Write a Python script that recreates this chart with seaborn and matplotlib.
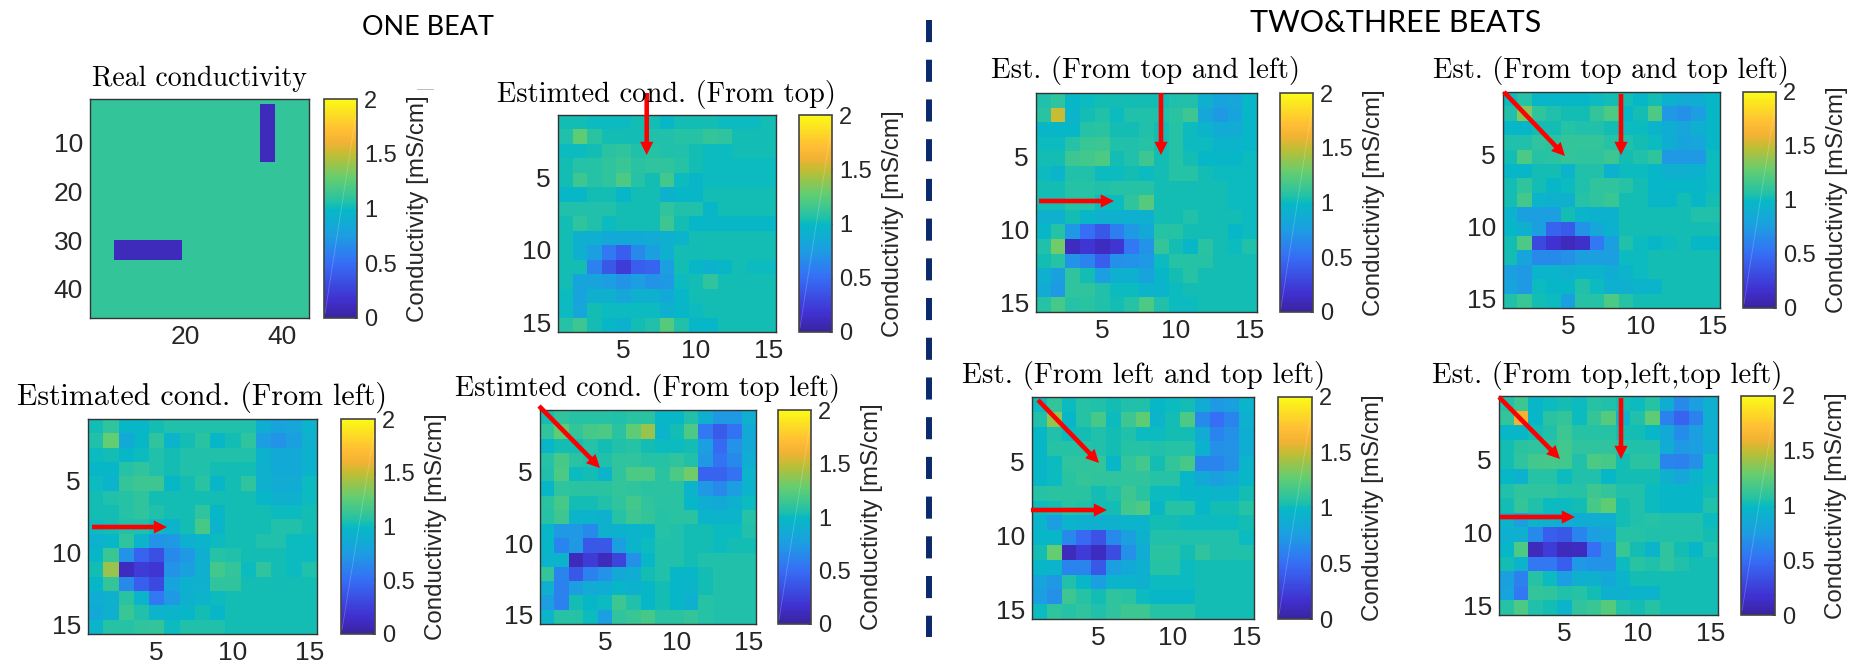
import numpy as np
import matplotlib
matplotlib.use("Agg")
import matplotlib.pyplot as plt
from matplotlib.colors import LinearSegmentedColormap
import seaborn as sns

sns.set_style("white")
plt.rcParams['font.family'] = ['Liberation Sans', 'DejaVu Sans']

W, H = 1863, 672

# ---------- data ----------
real_base = 1.12
real_low = 0.1
real_blocks = [(1, 13, 35, 38), (29, 33, 5, 19)]  # row0,row1,col0,col1

from_top = [
 [1.02,1.02,1.00,1.00,1.00,1.02,1.02,.97,1.03,1.03,1.03,1.00,1.00,1.00,1.03],
 [1.05,1.25,1.08,1.03,1.03,1.03,1.05,1.05,1.07,1.07,1.12,1.10,1.03,1.03,1.03],
 [1.00,1.00,1.03,1.08,1.10,1.05,1.07,1.05,1.05,1.03,1.00,1.00,1.03,1.03,1.03],
 [1.03,1.07,1.07,1.10,1.13,1.08,1.10,1.10,1.07,1.03,1.00,1.00,1.00,1.00,1.00],
 [1.03,1.15,1.07,1.10,1.20,1.07,1.03,1.17,1.00,.98,1.00,1.00,1.00,1.00,1.00],
 [.98,.98,1.02,1.02,.97,1.02,1.02,.93,.97,.97,1.02,1.03,1.03,1.03,1.03],
 [1.05,1.05,1.05,1.05,1.03,1.03,1.03,1.10,1.05,1.05,.98,1.03,1.03,1.03,1.03],
 [1.02,1.10,1.05,1.00,1.03,1.03,1.03,1.15,1.03,.98,.98,.98,.98,.98,.98],
 [1.02,.90,.90,.85,.85,.85,.87,.90,.95,1.03,1.03,1.03,1.03,1.03,1.03],
 [1.02,.90,.75,.55,.42,.65,.75,.90,1.02,1.03,1.03,1.03,1.03,1.03,1.03],
 [1.02,1.03,.60,.38,.22,.42,.45,.75,1.02,.97,.93,.98,1.03,1.00,1.00],
 [1.03,.80,.80,.75,.70,.75,.70,.72,1.00,1.03,1.10,1.03,1.03,1.03,1.03],
 [1.00,.80,.92,.92,.82,.92,.92,.85,.97,1.03,1.03,1.03,1.03,1.03,1.03],
 [1.00,.82,1.03,1.00,1.00,1.00,1.00,.92,.97,1.00,1.03,1.03,1.03,1.03,1.03],
 [1.07,1.15,1.03,.98,.93,1.03,1.05,1.22,1.05,.98,.98,1.03,1.03,1.03,1.03],
]
from_left = [
 [1.03,1.10,.97,.98,1.03,1.05,1.05,1.05,1.05,1.05,1.05,.88,.80,.82,.95],
 [1.05,1.28,.85,.97,1.10,.95,1.03,1.08,.97,1.03,1.10,.75,.70,.78,.92],
 [1.00,1.03,.98,1.00,1.05,1.03,1.05,1.05,1.05,1.05,1.05,.93,.85,.85,.93],
 [.97,.97,1.07,1.10,1.05,1.03,1.05,1.05,1.03,1.03,1.03,.92,.85,.85,.93],
 [1.00,.95,1.12,1.15,1.15,.97,1.03,1.08,.98,1.03,1.10,.92,.87,.87,1.00],
 [1.03,1.05,1.07,1.10,1.03,1.03,1.03,1.03,1.03,1.03,1.03,.97,.92,.92,1.00],
 [1.03,1.03,1.07,1.10,1.05,1.03,1.03,1.10,.97,1.03,1.03,1.03,1.00,1.00,1.03],
 [1.00,1.03,1.05,1.05,1.00,.95,1.03,1.18,.95,1.03,1.03,1.03,1.05,1.05,1.03],
 [.93,.97,1.10,.95,.70,.72,.90,.95,1.00,1.03,1.03,1.05,1.05,1.00,1.00],
 [.97,1.13,.70,.45,.33,.65,.72,.90,1.07,1.05,1.03,1.03,1.03,1.00,1.00],
 [1.03,1.40,.12,.22,.20,.70,.78,.92,1.17,1.12,1.00,1.10,1.03,1.00,1.05],
 [.97,1.12,.65,.42,.30,.80,.93,.92,1.10,1.10,1.03,1.03,1.03,1.03,1.03],
 [.88,.92,1.08,.95,.55,.72,.92,.95,1.00,1.03,1.03,1.03,1.03,1.03,1.03],
 [.85,.92,1.13,1.05,.95,.95,.98,1.03,.97,1.03,1.03,1.03,1.03,1.03,1.03],
 [.95,1.07,1.07,1.10,1.12,1.00,1.05,1.05,1.05,1.03,1.03,1.03,1.03,1.03,1.03],
]
from_top_left = [
 [1.03,1.10,1.07,1.07,1.07,1.05,1.08,1.08,.97,.97,1.05,.90,.72,.72,.90],
 [1.10,1.25,1.12,1.18,1.20,1.08,1.25,1.40,.95,1.03,1.20,.55,.40,.52,.85],
 [.97,1.03,1.03,1.07,1.03,1.05,1.07,1.02,1.00,1.00,1.03,.75,.48,.70,.85],
 [1.07,1.18,1.08,1.05,1.05,1.10,1.10,1.07,1.07,1.10,1.05,.72,.52,.65,.88],
 [1.05,1.20,1.00,1.03,.95,1.10,1.20,1.20,1.08,1.20,1.30,.45,.45,.52,.95],
 [.98,1.10,1.08,1.08,1.08,1.12,1.10,1.08,1.08,1.08,.95,.72,.65,.75,.95],
 [1.08,1.18,1.03,1.03,1.05,1.10,1.17,1.10,1.08,1.08,.97,.88,.85,.92,1.00],
 [1.07,1.15,.95,.95,.92,1.07,1.15,1.12,1.07,1.08,1.08,.95,.95,.95,1.07],
 [.97,.72,.72,.65,.92,.93,.95,.97,1.07,1.05,1.02,1.03,1.00,1.00,1.05],
 [.97,.62,.72,.38,.38,.75,.95,1.00,1.05,1.05,1.03,1.03,1.00,1.03,1.03],
 [.95,.95,.10,.22,.10,.27,.68,.97,1.05,1.05,1.03,1.05,1.05,1.05,1.05],
 [1.12,.62,.38,.60,.70,.85,.88,1.03,1.05,.98,.97,1.03,1.05,1.05,1.05],
 [.90,.60,.75,.87,.88,.98,.93,.98,1.03,.98,.95,1.03,1.05,1.05,1.05],
 [.75,.60,1.03,.97,1.00,1.15,1.05,.97,1.03,.97,.90,1.07,1.05,1.05,1.05],
 [.95,1.07,1.07,1.00,.75,1.10,1.13,1.18,1.08,1.08,1.12,1.07,1.05,1.05,1.05],
]
top_and_left = [
 [1.05,1.10,.97,1.00,1.03,1.03,1.03,1.03,1.03,1.05,1.05,.92,.80,.82,.97],
 [1.08,1.50,.95,1.02,1.05,1.00,1.05,1.05,1.05,1.08,1.15,.83,.72,.80,.97],
 [.98,.97,.98,1.07,1.08,1.03,1.03,1.05,1.03,1.07,1.00,.95,.87,.87,.97],
 [1.00,1.00,1.07,1.13,1.15,1.05,1.05,1.07,1.03,1.07,1.00,1.00,.95,.95,.97],
 [1.03,1.03,1.15,1.17,1.20,1.03,1.05,1.15,1.03,1.07,1.03,.97,.97,.97,1.00],
 [1.00,.95,1.05,1.05,1.00,1.00,1.03,1.00,1.03,1.07,1.07,1.03,1.00,1.00,1.00],
 [1.03,1.03,1.07,1.07,1.05,1.07,1.07,1.07,1.03,1.03,1.03,1.03,1.03,1.00,1.00],
 [1.03,1.03,1.07,1.07,1.00,1.00,1.10,1.22,1.03,1.03,1.03,1.03,1.03,1.00,1.00],
 [.92,.92,1.03,.97,.92,.92,.90,.90,1.03,1.03,1.05,1.03,1.03,1.03,1.00],
 [.97,1.07,.72,.50,.38,.58,.72,.85,1.07,1.07,1.03,1.03,1.03,.97,1.00],
 [1.05,1.30,.12,.20,.12,.20,.55,.70,1.12,1.03,.97,1.08,1.03,1.00,1.05],
 [1.03,1.07,.70,.62,.42,.68,.70,.72,1.00,1.07,1.07,1.07,1.03,1.03,1.03],
 [.92,.78,1.10,1.03,.75,.90,.92,.80,.97,1.03,1.07,1.03,1.03,1.03,1.03],
 [.87,.72,1.10,1.10,1.05,1.00,1.00,.95,.95,1.00,1.03,1.03,1.03,1.03,1.03],
 [1.07,1.18,1.07,1.08,1.05,1.03,1.07,1.20,1.05,1.00,1.00,1.03,1.03,1.03,1.03],
]
top_and_top_left = [
 [1.00,1.07,.98,.98,.97,.97,1.00,1.03,1.03,.98,1.03,.93,.87,.88,.97],
 [1.05,1.35,1.10,1.05,1.02,1.02,1.12,1.20,.97,1.03,1.20,.72,.68,.75,.97],
 [.97,.97,1.03,1.03,1.07,1.05,1.05,1.03,1.00,1.00,.95,.88,.82,.90,.97],
 [1.05,1.05,1.10,1.08,1.12,1.12,1.12,1.07,1.05,1.03,1.00,.88,.80,.82,.97],
 [1.03,1.20,1.07,1.08,1.12,1.10,1.10,1.15,1.03,1.05,1.10,.72,.72,.72,1.00],
 [.97,.97,1.02,1.02,.95,1.05,1.05,.93,1.00,1.00,.97,.90,.90,.93,1.00],
 [1.03,1.10,1.03,.97,1.00,1.05,1.10,1.10,1.07,1.03,.97,.97,.97,.97,1.00],
 [1.03,1.17,.95,.92,.92,1.07,1.10,1.13,1.03,1.03,.98,.97,1.03,.97,1.03],
 [.95,.78,.75,.75,1.03,.95,.93,.93,1.03,1.03,1.03,1.03,1.03,1.05,1.05],
 [.97,.92,.75,.45,.40,.70,.82,.93,1.03,1.03,1.03,1.03,1.03,1.03,1.03],
 [1.03,1.20,.30,.18,.10,.15,.55,.78,1.05,1.00,.97,1.00,1.03,.98,.98],
 [1.03,.80,.65,.65,.68,.78,.75,.75,1.00,1.00,1.03,1.03,1.03,1.03,1.03],
 [.78,.72,.95,.95,.92,.95,.95,.88,.95,1.00,1.03,1.03,1.03,1.03,1.03],
 [.80,.72,1.00,.97,.97,1.05,1.00,.90,.92,.95,.95,1.03,1.03,1.03,1.03],
 [1.05,1.13,1.03,1.00,.78,1.07,1.07,1.20,1.07,1.03,1.03,1.03,1.03,1.03,1.03],
]
left_and_top_left = [
 [1.00,1.12,1.00,1.07,1.05,1.02,1.05,1.05,.97,1.00,1.03,.87,.72,.78,.95],
 [1.05,1.38,.97,1.07,1.18,1.00,1.15,1.25,.95,1.03,1.20,.65,.50,.62,.90],
 [.97,1.05,1.00,1.03,1.05,1.03,1.05,1.00,1.00,1.03,1.03,.87,.62,.68,.88],
 [.97,1.07,1.07,1.07,1.05,1.03,1.07,1.07,1.05,1.07,1.07,.93,.68,.70,.88],
 [.97,1.00,1.10,1.10,1.12,.97,1.12,1.17,1.03,1.12,1.18,.62,.62,.68,.95],
 [.97,1.00,1.08,1.12,1.10,1.10,1.10,1.10,1.07,1.07,.97,.85,.78,.85,.97],
 [1.07,1.08,1.08,1.08,1.03,1.05,1.15,1.08,1.00,1.00,.97,.97,.95,.95,1.03],
 [1.00,1.03,1.07,1.05,1.03,1.03,1.17,1.20,.98,1.07,1.07,.97,1.03,1.03,1.07],
 [.95,.75,.95,.92,.92,.92,.95,.95,1.02,1.02,1.00,1.00,1.00,1.00,1.03],
 [.97,.97,.65,.48,.35,.65,.78,.92,1.05,1.05,1.05,1.05,1.05,1.05,1.00],
 [1.02,1.27,.10,.22,.12,.32,.68,.87,1.08,1.08,1.03,1.10,1.05,1.05,1.05],
 [.97,.95,.62,.62,.38,.75,.85,.90,1.07,1.07,1.00,1.03,1.03,1.03,1.03],
 [.80,.72,1.05,.97,.75,.95,.95,.92,1.00,1.00,1.00,1.03,1.03,1.03,1.03],
 [.75,.68,1.15,1.07,1.03,1.10,1.08,1.00,.98,.98,.98,1.03,1.03,1.03,1.03],
 [1.00,1.10,1.07,1.10,1.05,1.10,1.15,1.15,1.07,1.07,1.07,1.03,1.03,1.03,1.03],
]
all_three = [
 [1.05,1.15,.97,1.00,1.03,1.00,1.07,1.05,1.03,1.00,1.07,.88,.65,.75,.92],
 [1.12,1.60,.97,1.08,1.12,1.00,1.12,1.22,.95,1.05,1.25,.60,.45,.60,.90],
 [.97,.97,1.03,1.05,1.15,1.07,1.07,1.07,1.03,1.03,.97,.85,.67,.75,.90],
 [1.02,1.08,1.10,1.10,1.17,1.10,1.10,1.10,1.07,1.05,1.05,.87,.72,.75,.88],
 [1.03,1.10,1.17,1.18,1.17,1.05,1.20,1.18,1.03,1.08,1.08,.62,.60,.68,1.00],
 [.97,.93,1.07,1.07,1.00,1.05,1.05,.97,1.03,1.03,1.02,.92,.82,.95,1.00],
 [1.05,1.10,1.10,1.10,1.07,1.07,1.15,1.12,1.05,1.05,1.00,.97,.97,.97,1.03],
 [1.03,1.12,1.05,1.00,1.00,1.03,1.18,1.25,1.03,1.05,1.00,.97,.97,.97,1.05],
 [.95,.78,.95,.92,.88,.88,.88,.88,1.03,1.05,1.07,1.05,1.05,1.05,1.00],
 [.90,.90,.65,.42,.38,.62,.75,.80,1.07,1.07,1.05,1.05,1.05,1.05,1.03],
 [.97,1.20,.10,.22,.10,.12,.50,.70,1.13,1.03,.95,1.10,1.03,.98,1.05],
 [1.03,.95,.55,.55,.42,.72,.70,.70,1.00,1.08,1.05,1.10,1.05,1.03,1.03],
 [.78,.60,1.07,1.00,.75,.92,.92,.85,.95,1.03,1.03,1.03,1.03,1.03,1.03],
 [.80,.55,1.12,1.10,1.05,1.07,1.03,.92,.92,.95,.95,1.03,1.03,1.03,1.03],
 [1.07,1.20,1.05,1.03,.95,1.10,1.13,1.22,1.05,1.03,1.07,1.03,1.03,1.03,1.03],
]
real_cond = np.full((45, 45), real_base)
for r0, r1, c0, c1 in real_blocks:
    real_cond[r0:r1, c0:c1] = real_low

titles = ["Real conductivity", "Estimted cond. (From top)", "Estimated cond. (From left)",
          "Estimted cond. (From top left)", "Est. (From top and left)",
          "Est. (From top and top left)", "Est. (From left and top left)",
          "Est. (From top,left,top left)"]
matrices = [real_cond, from_top, from_left, from_top_left, top_and_left,
            top_and_top_left, left_and_top_left, all_three]
tick_values_fine = [5, 10, 15]
cbar_ticks = [0, 0.5, 1, 1.5, 2]
cbar_labels = ["0", "0.5", "1", "1.5", "2"]
cbar_title = "Conductivity [mS/cm]"
headings = ["ONE BEAT", "TWO&THREE BEATS"]

# ---------- layout (pixels) ----------
axes_box = [(90,309,99,318),(558,776,115,332),(88,317,419,634),(540,756,410,624),
            (1036,1257,93,312),(1503,1720,92,308),(1032,1254,397,619),(1499,1718,396,615)]
cbar_box = [(324,357),(799,832),(341,375),(778,811),(1280,1313),(1743,1776),(1278,1312),(1741,1775)]
title_box = [(92,307,86),(497,836,102),(17,388,405),(455,840,396),
             (991,1301,78),(1433,1789,78),(962,1325,383),(1432,1783,383)]
heading_box = [(362,493,35),(1250,1541,32)]
arrows = [((646.7,93),(646.7,155)),((92,527),(167,527)),((539,406),(600,468)),
          ((1161,93),(1161,155)),((1039,201),(1114,201)),
          ((1504,92),(1565,156)),((1621,94),(1621,155)),
          ((1038,400),(1099,463)),((1031,510),(1107,510)),
          ((1499,397),(1560,459)),((1621,398),(1621,459)),((1500,517),(1575,517))]

stops = [(0.0,(58,36,160)),(0.08,(64,48,208)),(0.25,(54,110,246)),(0.375,(28,158,226)),
         (0.5,(6,186,196)),(0.515,(24,190,176)),(0.55,(46,196,158)),(0.64,(100,205,112)),
         (0.745,(190,190,52)),(0.80,(240,178,52)),(0.86,(255,190,52)),(1.0,(250,250,22))]
cmap = LinearSegmentedColormap.from_list("parula_like",
        [(p, tuple(v/255 for v in c)) for p, c in stops], N=128)

fig = plt.figure(figsize=(W/100, H/100), dpi=100, facecolor="white")

def add_px_axes(x0, x1, y0, y1):
    return fig.add_axes([x0/W, 1-y1/H, (x1-x0)/W, (y1-y0)/H])

EDGE = "#333333"
TXT = "#262626"
for i, mat in enumerate(matrices):
    x0, x1, y0, y1 = axes_box[i]
    ax = add_px_axes(x0, x1, y0, y1)
    cx0, cx1 = cbar_box[i]
    cax = add_px_axes(cx0, cx1, y0, y1)
    arr = np.asarray(mat, float)
    sns.heatmap(arr, ax=ax, cbar_ax=cax, vmin=0, vmax=2, cmap=cmap, square=False,
                cbar_kws={"ticks": cbar_ticks})
    if i == 0:
        xt, yt = [20, 40], [10, 20, 30, 40]
    else:
        xt, yt = tick_values_fine, tick_values_fine
    ax.set_xticks([v-0.5 for v in xt]); ax.set_xticklabels([str(v) for v in xt], rotation=0)
    ax.set_yticks([v-0.5 for v in yt]); ax.set_yticklabels([str(v) for v in yt], rotation=0)
    ax.tick_params(direction="in", length=2.5, width=0.7, color=EDGE, top=True, right=True,
                   bottom=True, left=True, labelsize=19, labelcolor=TXT, pad=5)
    for s in ax.spines.values():
        s.set_visible(True); s.set_color(EDGE); s.set_linewidth(1.0)
    cb = ax.collections[0].colorbar
    cb.outline.set_visible(True); cb.outline.set_linewidth(1.2); cb.outline.set_edgecolor("#444444")
    cax.set_yticks(cbar_ticks); cax.set_yticklabels(cbar_labels)
    cax.tick_params(direction="in", length=2.5, width=0.7, color=EDGE, right=True, left=False,
                    labelsize=17, labelcolor=TXT, pad=5)
    cax.plot([0.03, 0.97], [0.02, 0.93], transform=cax.transAxes, color="white", alpha=0.22, lw=0.6)
    cax.set_ylabel(cbar_title, fontsize=17.4, color=TXT, rotation=90)
    cax.yaxis.set_label_position("right")
    cax.yaxis.set_label_coords(1 + 50/(cx1-cx0), 0.5)

ov = fig.add_axes([0, 0, 1, 1], zorder=10)
ov.set_xlim(0, W); ov.set_ylim(H, 0); ov.axis("off"); ov.patch.set_alpha(0)

for (start, end) in arrows:
    ov.annotate("", xy=end, xytext=start, xycoords="data", textcoords="data",
                arrowprops=dict(facecolor="#fe0000", edgecolor="none", width=3.3,
                                headwidth=9.5, headlength=9.5, shrink=0))

ov.plot([929, 929], [20, 637], color="#0b2a6b", lw=4.3, linestyle=(0, (3.7, 2.95)),
        dash_capstyle="butt")
ov.plot([417, 433], [89, 89], color="#bbbbbb", lw=0.7)

renderer = fig.canvas.get_renderer()
for t, (x0, x1, base) in zip(titles, title_box):
    txt = ov.text(x0, base, t, family="cmr10", fontsize=20, va="baseline", ha="left", color="black")
    w = txt.get_window_extent(renderer).width
    txt.set_fontsize(20*(x1-x0)/w)

for t, (x0, x1, base) in zip(headings, heading_box):
    txt = ov.text(x0, base, t, family="Lato", fontsize=22, va="baseline", ha="left", color="black")
    w = txt.get_window_extent(renderer).width
    txt.set_fontsize(22*(x1-x0)/w)

fig.savefig("out.png", dpi=100, facecolor="white")
